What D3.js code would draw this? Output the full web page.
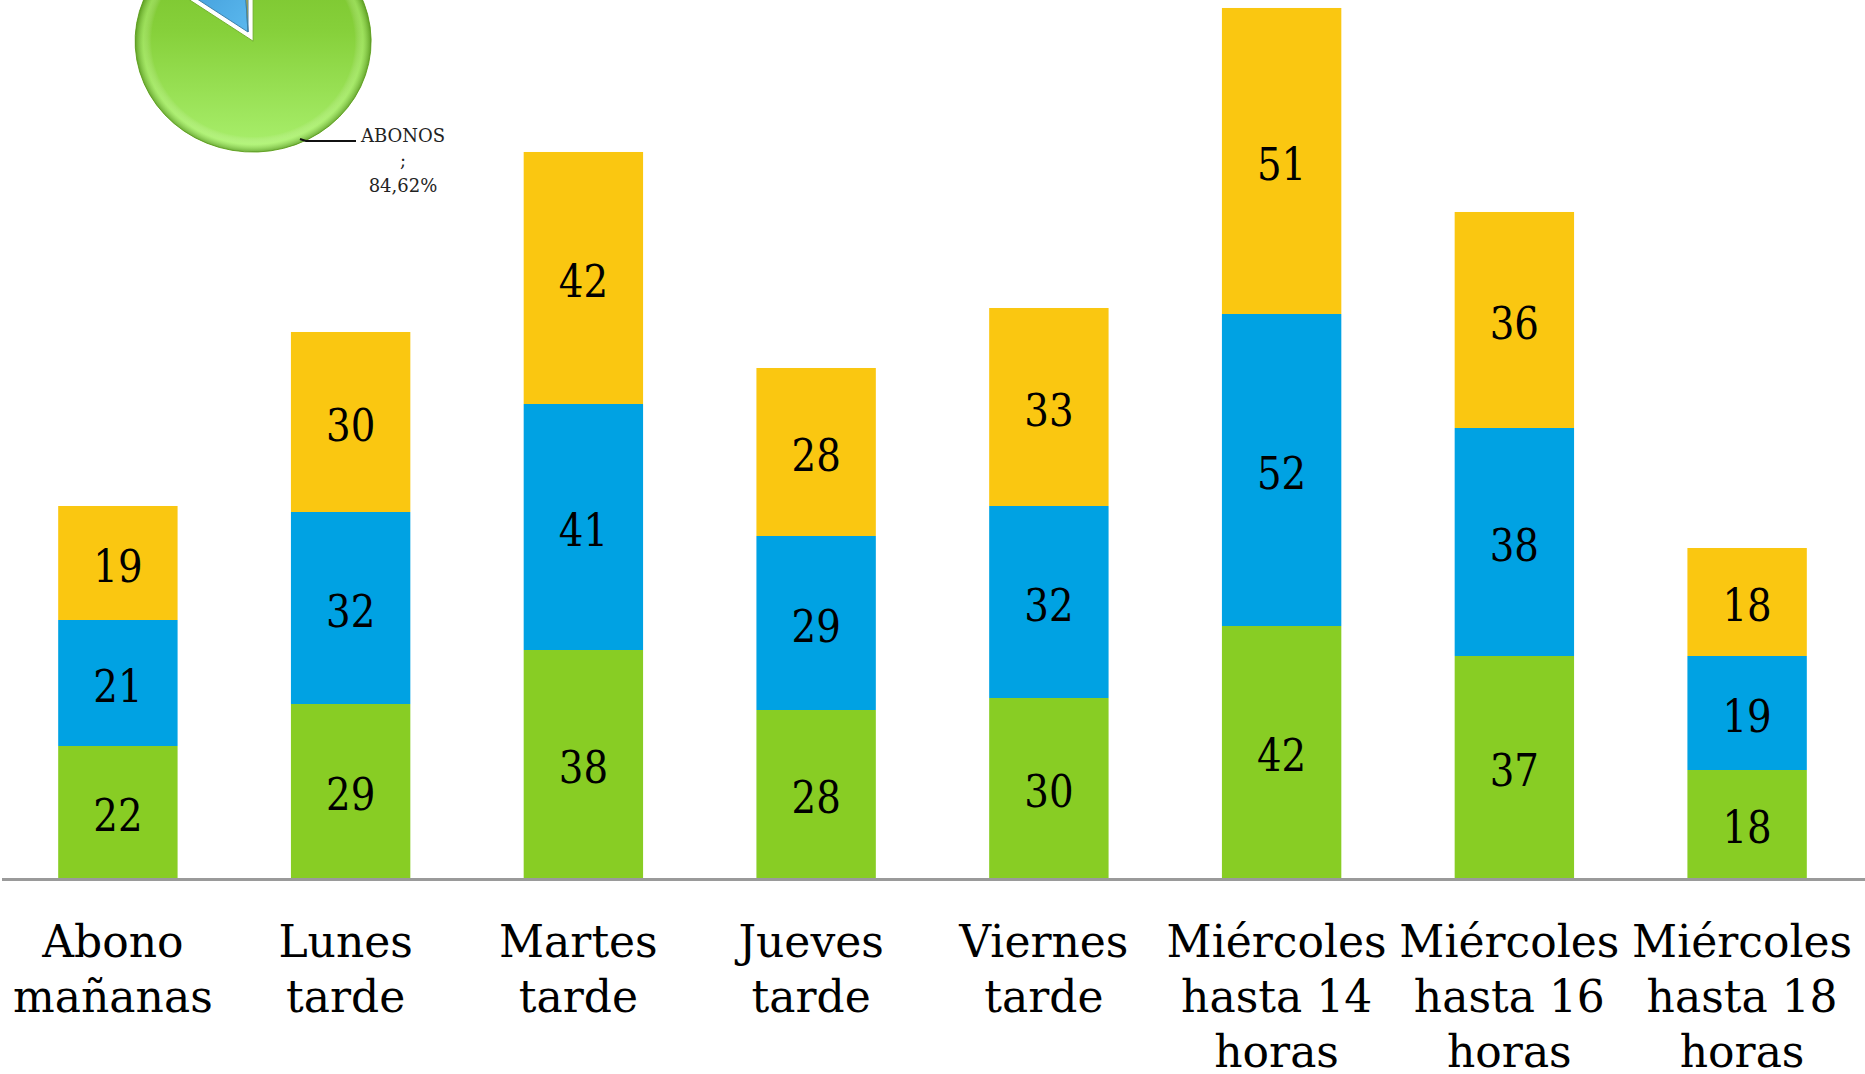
<!DOCTYPE html>
<html>
<head>
<meta charset="utf-8">
<script src="https://cdn.jsdelivr.net/npm/d3@7"></script>
<style>
  html, body { margin: 0; padding: 0; background: #fff; overflow: hidden; }
  svg { display: block; font-family: "DejaVu Serif", serif; }
</style>
</head>
<body>
<svg id="chart" width="1865" height="1074"></svg>
<script>
// categories (each label split in lines as on the axis)
const categories = ["Abono mañanas", "Lunes tarde", "Martes tarde", "Jueves tarde",
  "Viernes tarde", "Miércoles hasta 14 horas", "Miércoles hasta 16 horas", "Miércoles hasta 18 horas"];
const labelLines = [["Abono", "mañanas"], ["Lunes", "tarde"], ["Martes", "tarde"], ["Jueves", "tarde"],
  ["Viernes", "tarde"], ["Miércoles", "hasta 14", "horas"], ["Miércoles", "hasta 16", "horas"], ["Miércoles", "hasta 18", "horas"]];

// series, bottom to top
const seriesKeys = ["verde", "azul", "amarillo"];
const verde = [22, 29, 38, 28, 30, 42, 37, 18];
const azul = [21, 32, 41, 29, 32, 52, 38, 19];
const amarillo = [19, 30, 42, 28, 33, 51, 36, 18];
const colors = ["#88cd24", "#00a2e3", "#fac711"];

// small pie in the corner
const pieKeys = ["ABONOS", "otros", "resto"];
const pieValues = [84.62, 14.42, 0.96];
const pieLabel = ["ABONOS", ";", "84,62%"];

const svg = d3.select("#chart");
const width = 1865;

const rows = categories.map((c, i) => ({ cat: c, verde: verde[i], azul: azul[i], amarillo: amarillo[i] }));
const stacked = d3.stack().keys(seriesKeys)(rows);

const x = d3.scaleBand().domain(categories).range([0, width]).paddingInner(0.487).paddingOuter(0.25);
const y = d3.scaleLinear().domain([0, 146.33]).range([878, 0]);

// --- pie (drawn first, bars don't overlap it) ---
const defs = svg.append("defs");
const gGreen = defs.append("linearGradient").attr("id", "gGreen")
  .attr("x1", 0).attr("y1", 0).attr("x2", 0).attr("y2", 1);
gGreen.append("stop").attr("offset", "0%").attr("stop-color", "#74bd26");
gGreen.append("stop").attr("offset", "45%").attr("stop-color", "#86d03a");
gGreen.append("stop").attr("offset", "100%").attr("stop-color", "#aaf06e");
const gRim = defs.append("radialGradient").attr("id", "gRim")
  .attr("cx", "50%").attr("cy", "50%").attr("r", "50%");
gRim.append("stop").attr("offset", "0%").attr("stop-color", "#ffffff").attr("stop-opacity", 0);
gRim.append("stop").attr("offset", "86%").attr("stop-color", "#ffffff").attr("stop-opacity", 0);
gRim.append("stop").attr("offset", "93%").attr("stop-color", "#c8ff9a").attr("stop-opacity", 0.35);
gRim.append("stop").attr("offset", "100%").attr("stop-color", "#3f7a10").attr("stop-opacity", 0.55);
const gBlue = defs.append("linearGradient").attr("id", "gBlue").attr("x1", 0).attr("y1", 0).attr("x2", 1).attr("y2", 1);
gBlue.append("stop").attr("offset", "0%").attr("stop-color", "#2f86c8");
gBlue.append("stop").attr("offset", "100%").attr("stop-color", "#5ab8ee");

const pie = d3.pie().sort(null).value(d => d)(pieValues);
const arc = d3.arc().innerRadius(0).outerRadius(118);
const pieG = svg.append("g").attr("transform", "translate(248,32) scale(1,0.94)");
const sliceG = pieG.selectAll("g.slice")
  .data(pie)
  .enter()
  .append("g")
  .attr("class", "slice")
  .attr("transform", (d, i) => {
    if (i !== 0) return null;
    const a = (d.startAngle + d.endAngle) / 2;
    return `translate(${Math.sin(a) * 11},${-Math.cos(a) * 11})`;
  });
sliceG.append("path")
  .attr("d", arc)
  .attr("fill", (d, i) => i === 0 ? "url(#gGreen)" : i === 1 ? "url(#gBlue)" : "#e4b318")
  .attr("stroke", (d, i) => i === 0 ? "#6fb02c" : "#3a7fa8")
  .attr("stroke-width", 1);
sliceG.filter((d, i) => i === 0).append("path")
  .attr("d", arc)
  .attr("fill", "url(#gRim)");

// leader line + label for ABONOS
svg.append("path")
  .attr("d", "M300,139 L306,141 L356,141")
  .attr("fill", "none")
  .attr("stroke", "#111")
  .attr("stroke-width", 2);
svg.append("g").selectAll("text")
  .data(pieLabel)
  .enter()
  .append("text")
  .attr("x", 403)
  .attr("y", (d, i) => 142 + i * 25)
  .attr("text-anchor", "middle")
  .attr("font-size", 18)
  .attr("fill", "#222")
  .text(d => d);

// --- bars ---
const layer = svg.append("g").selectAll("g.layer")
  .data(stacked)
  .enter()
  .append("g")
  .attr("class", "layer")
  .attr("fill", (d, i) => colors[i]);

layer.selectAll("rect")
  .data(d => d)
  .enter()
  .append("rect")
  .attr("x", d => x(d.data.cat))
  .attr("y", d => y(d[1]))
  .attr("width", x.bandwidth())
  .attr("height", d => y(d[0]) - y(d[1]));

layer.selectAll("text")
  .data(d => d)
  .enter()
  .append("text")
  .attr("transform", d => `translate(${x(d.data.cat) + x.bandwidth() / 2},${(y(d[0]) + y(d[1])) / 2 + 19}) scale(0.88,1)`)
  .attr("text-anchor", "middle")
  .attr("font-size", 44)
  .attr("fill", "#000")
  .text(d => d[1] - d[0]);

// --- axis line ---
svg.append("line")
  .attr("x1", 2).attr("x2", width)
  .attr("y1", y(0) + 1.5).attr("y2", y(0) + 1.5)
  .attr("stroke", "#9a9a9a")
  .attr("stroke-width", 3);

// --- category labels ---
const lab = svg.append("g").selectAll("text")
  .data(categories)
  .enter()
  .append("text")
  .attr("text-anchor", "middle")
  .attr("font-size", 44)
  .attr("fill", "#000");

lab.selectAll("tspan")
  .data((d, i) => labelLines[i].map(t => ({ t, c: d })))
  .enter()
  .append("tspan")
  .attr("x", d => x(d.c) + x.bandwidth() / 2 - 5)
  .attr("y", (d, j) => 957 + j * 55)
  .text(d => d.t);
</script>
</body>
</html>
